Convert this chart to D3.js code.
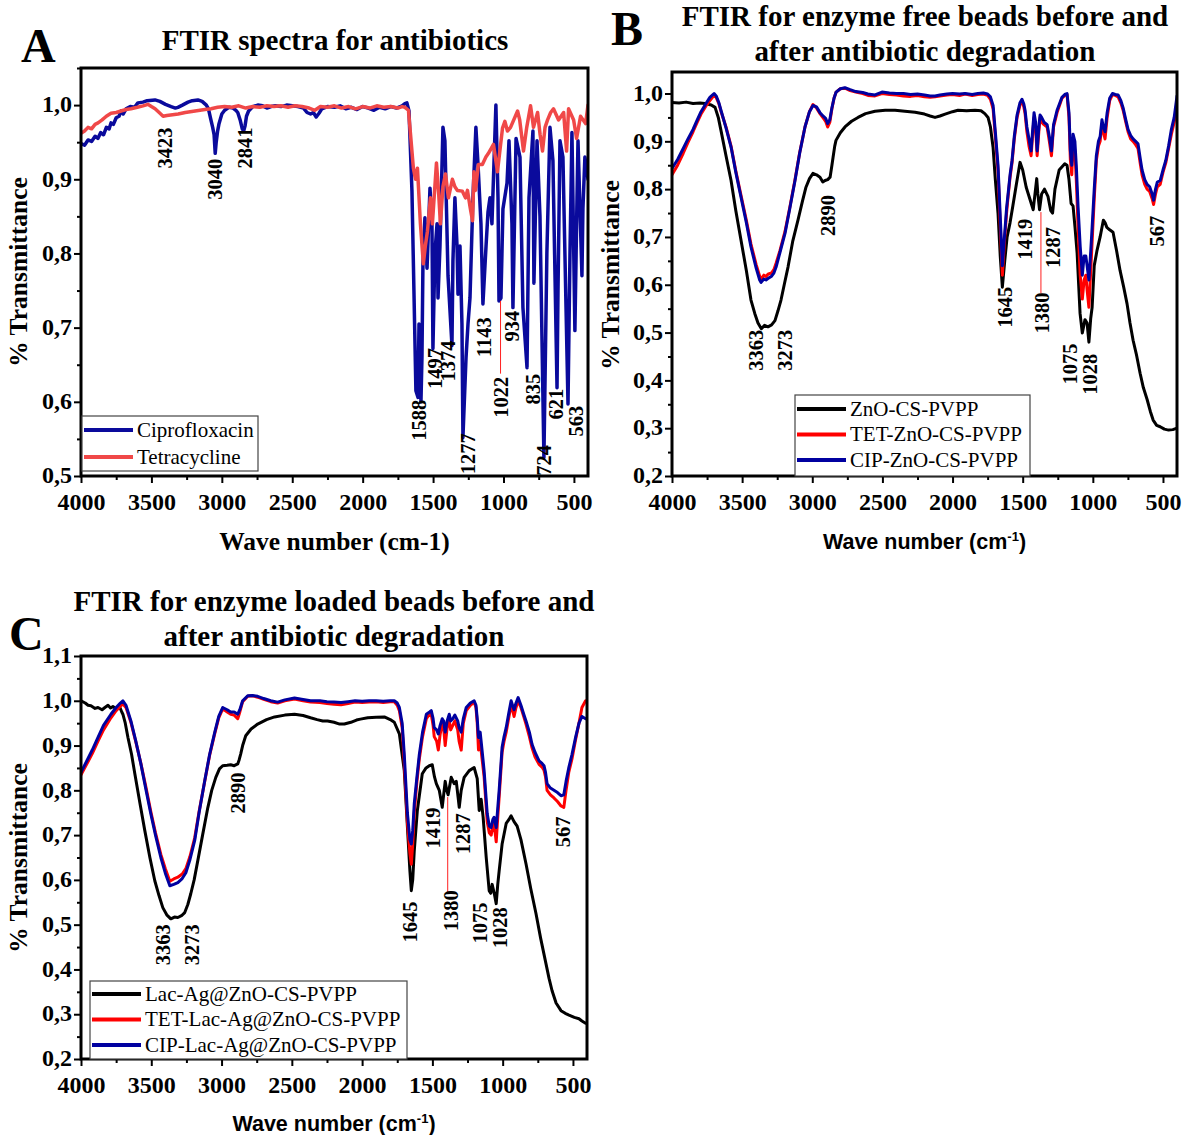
<!DOCTYPE html>
<html><head><meta charset="utf-8">
<script src="https://cdn.jsdelivr.net/npm/d3@7"></script>
<style>body{margin:0;background:#fff}</style>
</head><body>
<svg id="chart" width="1184" height="1135"></svg>
<script>
// ---------- tick labels ----------
const xTickValues = [4000, 3500, 3000, 2500, 2000, 1500, 1000, 500];
const xMinorValues = [3750, 3250, 2750, 2250, 1750, 1250, 750];
const yTicksA = [0.5, 0.6, 0.7, 0.8, 0.9, 1.0];
const yTicksB = [0.2, 0.3, 0.4, 0.5, 0.6, 0.7, 0.8, 0.9, 1.0];
const yTicksC = [0.2, 0.3, 0.4, 0.5, 0.6, 0.7, 0.8, 0.9, 1.0, 1.1];

// ---------- series names ----------
const namesA = ["Ciprofloxacin", "Tetracycline"];
const namesB = ["ZnO-CS-PVPP", "TET-ZnO-CS-PVPP", "CIP-ZnO-CS-PVPP"];
const namesC = ["Lac-Ag@ZnO-CS-PVPP", "TET-Lac-Ag@ZnO-CS-PVPP", "CIP-Lac-Ag@ZnO-CS-PVPP"];

// ---------- panel A values [wavenumber, transmittance] ----------
const ciproA = [[4000,0.948],[3975,0.946],[3950,0.953],[3925,0.951],[3900,0.958],[3880,0.955],[3860,0.963],[3840,0.96],[3820,0.97],[3800,0.968],[3787,0.976],[3770,0.974],[3750,0.983],[3730,0.985],[3715,0.992],[3700,0.988],[3680,0.995],[3650,0.998],[3620,0.997],[3596,1.003],[3560,1.004],[3530,1.006],[3475,1.007],[3440,1.005],[3400,1.001],[3360,0.998],[3330,0.996],[3312,0.997],[3280,1.0],[3240,1.004],[3210,1.006],[3170,1.007],[3140,1.005],[3110,1.0],[3095,0.995],[3080,0.982],[3065,0.97],[3055,0.96],[3047,0.935],[3040,0.95],[3030,0.965],[3020,0.975],[3000,0.988],[2980,0.993],[2950,0.997],[2920,0.996],[2900,0.993],[2887,0.99],[2870,0.98],[2855,0.968],[2845,0.965],[2835,0.972],[2825,0.985],[2810,0.992],[2780,0.998],[2745,1.0],[2710,0.999],[2680,0.996],[2650,0.998],[2620,0.999],[2580,0.998],[2540,1.0],[2500,0.999],[2460,0.998],[2420,0.996],[2395,0.99],[2370,0.988],[2350,0.99],[2330,0.984],[2310,0.989],[2290,0.995],[2250,0.998],[2200,0.997],[2160,0.999],[2120,0.995],[2080,0.997],[2040,0.994],[2000,0.998],[1960,0.996],[1920,0.993],[1880,0.997],[1840,0.995],[1800,0.998],[1760,0.996],[1720,0.999],[1700,1.002],[1686,1.003],[1671,0.992],[1650,0.884],[1636,0.75],[1622,0.615],[1607,0.606],[1600,0.705],[1586,0.6],[1579,0.66],[1572,0.786],[1558,0.848],[1543,0.78],[1522,0.888],[1508,0.84],[1501,0.672],[1487,0.8],[1472,0.84],[1465,0.74],[1451,0.81],[1430,0.97],[1416,0.952],[1394,0.77],[1366,0.676],[1359,0.79],[1345,0.875],[1330,0.81],[1323,0.745],[1309,0.81],[1295,0.705],[1288,0.552],[1266,0.66],[1252,0.705],[1238,0.74],[1217,0.875],[1196,0.97],[1181,0.92],[1160,0.84],[1146,0.732],[1124,0.81],[1110,0.856],[1096,0.875],[1082,0.84],[1068,0.92],[1054,1.0],[1039,0.875],[1032,0.736],[1018,0.74],[1004,0.86],[975,0.895],[961,0.952],[940,0.84],[933,0.727],[911,0.955],[883,0.93],[862,0.727],[833,0.646],[819,0.875],[791,0.965],[784,0.76],[762,0.952],[741,0.85],[713,0.525],[692,0.8],[670,0.97],[649,0.925],[620,0.619],[613,0.75],[599,0.952],[578,0.93],[542,0.597],[528,0.8],[514,0.963],[507,0.875],[493,0.696],[478,0.875],[471,0.952],[443,0.77],[436,0.86],[422,0.93],[400,0.9]];
const tetraA = [[4000,0.962],[3975,0.965],[3950,0.97],[3925,0.968],[3900,0.974],[3879,0.976],[3850,0.98],[3820,0.985],[3787,0.989],[3750,0.99],[3716,0.992],[3680,0.994],[3645,0.995],[3600,0.997],[3560,0.999],[3524,1.001],[3500,0.998],[3474,0.995],[3445,0.99],[3417,0.985],[3390,0.986],[3350,0.987],[3310,0.988],[3260,0.99],[3190,0.992],[3120,0.994],[3076,0.995],[3030,0.997],[2980,0.998],[2930,0.997],[2880,0.999],[2830,0.996],[2780,0.998],[2730,0.997],[2680,0.999],[2630,0.998],[2580,0.999],[2530,0.997],[2480,0.999],[2430,0.998],[2380,0.996],[2340,0.993],[2300,0.998],[2250,0.997],[2200,0.999],[2150,0.996],[2100,0.998],[2050,0.995],[2000,0.998],[1950,0.996],[1900,0.999],[1850,0.997],[1800,0.998],[1750,0.996],[1720,0.998],[1700,0.997],[1675,0.993],[1660,0.96],[1640,0.915],[1625,0.9],[1611,0.915],[1590,0.84],[1569,0.786],[1555,0.81],[1540,0.83],[1519,0.875],[1505,0.84],[1476,0.922],[1460,0.88],[1448,0.84],[1430,0.89],[1412,0.907],[1391,0.875],[1363,0.9],[1345,0.89],[1327,0.885],[1292,0.884],[1270,0.875],[1256,0.885],[1235,0.86],[1220,0.844],[1210,0.91],[1199,0.885],[1178,0.92],[1150,0.92],[1125,0.93],[1107,0.935],[1071,0.947],[1043,0.91],[1007,0.969],[990,0.978],[972,0.965],[950,0.97],[900,0.992],[885,0.98],[858,0.938],[835,0.97],[808,0.999],[787,0.97],[758,0.99],[740,0.96],[723,0.938],[705,0.97],[687,0.98],[665,0.99],[645,0.995],[609,0.98],[573,0.99],[552,0.938],[538,0.995],[502,0.98],[481,0.955],[453,0.985],[417,0.975],[400,1.0]];

// ---------- panel B values ----------
const blackB = [[4000,0.981],[3950,0.98],[3900,0.982],[3850,0.979],[3800,0.98],[3765,0.979],[3720,0.976],[3693,0.971],[3670,0.95],[3651,0.923],[3615,0.87],[3579,0.818],[3545,0.755],[3508,0.693],[3470,0.63],[3437,0.568],[3410,0.54],[3387,0.52],[3363,0.508],[3340,0.515],[3316,0.512],[3290,0.516],[3266,0.525],[3245,0.545],[3223,0.568],[3200,0.6],[3173,0.637],[3140,0.69],[3102,0.735],[3070,0.775],[3045,0.804],[3020,0.822],[2995,0.833],[2970,0.83],[2945,0.825],[2925,0.815],[2909,0.818],[2890,0.82],[2873,0.825],[2860,0.85],[2852,0.866],[2840,0.89],[2831,0.902],[2800,0.918],[2767,0.93],[2720,0.942],[2674,0.95],[2620,0.958],[2553,0.963],[2480,0.965],[2410,0.965],[2340,0.963],[2267,0.961],[2200,0.957],[2160,0.953],[2125,0.95],[2090,0.953],[2053,0.957],[2000,0.962],[1961,0.965],[1900,0.964],[1840,0.965],[1797,0.964],[1770,0.958],[1747,0.95],[1730,0.93],[1711,0.887],[1695,0.82],[1676,0.75],[1660,0.66],[1645,0.595],[1628,0.65],[1611,0.7],[1590,0.73],[1570,0.765],[1545,0.81],[1519,0.856],[1500,0.84],[1475,0.804],[1455,0.785],[1425,0.757],[1400,0.822],[1392,0.79],[1380,0.757],[1365,0.79],[1345,0.8],[1320,0.785],[1300,0.755],[1287,0.75],[1270,0.8],[1240,0.84],[1200,0.853],[1184,0.85],[1170,0.82],[1155,0.77],[1141,0.765],[1127,0.72],[1112,0.666],[1091,0.54],[1075,0.499],[1056,0.527],[1041,0.52],[1028,0.48],[1015,0.53],[1005,0.553],[990,0.64],[970,0.672],[948,0.7],[925,0.735],[913,0.73],[900,0.72],[880,0.715],[856,0.71],[830,0.67],[806,0.63],[780,0.595],[756,0.56],[735,0.52],[713,0.484],[690,0.455],[663,0.415],[640,0.385],[613,0.36],[590,0.335],[570,0.317],[545,0.306],[520,0.303],[490,0.298],[460,0.296],[430,0.297],[400,0.3]];
const redB = [[4000,0.83],[3960,0.85],[3920,0.875],[3886,0.898],[3850,0.92],[3820,0.94],[3793,0.957],[3760,0.973],[3730,0.985],[3700,0.996],[3685,0.992],[3665,0.978],[3651,0.963],[3615,0.93],[3579,0.89],[3545,0.838],[3508,0.787],[3470,0.735],[3437,0.685],[3400,0.642],[3375,0.618],[3365,0.612],[3345,0.62],[3330,0.617],[3316,0.622],[3290,0.625],[3273,0.632],[3258,0.645],[3230,0.672],[3194,0.712],[3160,0.762],[3123,0.82],[3090,0.876],[3052,0.93],[3020,0.962],[2995,0.977],[2970,0.97],[2945,0.958],[2920,0.948],[2905,0.942],[2890,0.93],[2875,0.94],[2860,0.968],[2845,0.99],[2830,1.003],[2800,1.01],[2767,1.011],[2730,1.006],[2690,1.003],[2640,1.0],[2603,0.996],[2553,0.995],[2503,1.0],[2450,0.998],[2400,0.997],[2350,0.995],[2300,0.994],[2250,0.996],[2200,0.993],[2160,0.992],[2125,0.993],[2090,0.995],[2040,0.997],[2000,0.998],[1950,0.996],[1911,0.999],[1860,0.996],[1820,0.998],[1780,0.999],[1750,0.996],[1730,0.988],[1711,0.968],[1695,0.91],[1676,0.84],[1661,0.73],[1645,0.62],[1630,0.69],[1615,0.75],[1604,0.785],[1590,0.825],[1576,0.855],[1560,0.905],[1540,0.95],[1520,0.975],[1505,0.985],[1492,0.972],[1483,0.958],[1470,0.92],[1455,0.89],[1440,0.87],[1430,0.91],[1419,0.95],[1408,0.93],[1397,0.87],[1385,0.92],[1376,0.95],[1365,0.94],[1348,0.935],[1326,0.93],[1310,0.9],[1295,0.87],[1280,0.93],[1255,0.96],[1220,0.99],[1200,0.996],[1184,0.998],[1170,0.95],[1160,0.86],[1150,0.83],[1141,0.9],[1128,0.88],[1118,0.82],[1105,0.72],[1090,0.62],[1075,0.57],[1062,0.61],[1050,0.62],[1041,0.59],[1028,0.553],[1015,0.63],[1005,0.69],[990,0.78],[975,0.86],[960,0.89],[948,0.9],[935,0.935],[925,0.92],[913,0.905],[898,0.95],[880,0.985],[860,0.998],[840,0.996],[820,0.993],[800,0.98],[784,0.965],[765,0.94],[749,0.92],[730,0.905],[713,0.9],[695,0.893],[678,0.885],[660,0.85],[649,0.83],[630,0.81],[613,0.8],[595,0.795],[577,0.78],[567,0.768],[553,0.79],[540,0.805],[520,0.81],[500,0.835],[480,0.855],[460,0.885],[440,0.915],[420,0.94],[400,0.97]];
const blueB = [[4000,0.843],[3960,0.862],[3920,0.885],[3886,0.905],[3850,0.925],[3820,0.945],[3793,0.962],[3760,0.978],[3730,0.992],[3700,1.0],[3685,0.995],[3665,0.98],[3651,0.965],[3615,0.928],[3579,0.888],[3545,0.835],[3508,0.783],[3470,0.73],[3437,0.679],[3400,0.635],[3375,0.61],[3365,0.605],[3345,0.612],[3330,0.61],[3316,0.613],[3290,0.618],[3273,0.625],[3258,0.637],[3230,0.668],[3194,0.708],[3160,0.76],[3123,0.818],[3090,0.875],[3052,0.93],[3020,0.962],[2995,0.975],[2970,0.972],[2945,0.96],[2920,0.952],[2905,0.948],[2890,0.937],[2875,0.945],[2860,0.97],[2845,0.99],[2830,1.003],[2800,1.01],[2767,1.012],[2730,1.008],[2690,1.004],[2640,1.002],[2603,0.999],[2553,0.997],[2503,1.003],[2450,1.001],[2400,1.0],[2350,1.0],[2300,0.998],[2250,0.999],[2200,0.997],[2160,0.995],[2125,0.995],[2090,0.997],[2040,0.999],[2000,1.0],[1950,0.999],[1911,1.0],[1860,0.998],[1820,1.0],[1780,1.001],[1750,0.999],[1730,0.993],[1711,0.975],[1695,0.92],[1676,0.85],[1661,0.75],[1645,0.64],[1630,0.7],[1615,0.76],[1604,0.79],[1590,0.83],[1576,0.86],[1560,0.91],[1540,0.955],[1520,0.98],[1505,0.988],[1492,0.978],[1483,0.965],[1470,0.93],[1455,0.905],[1440,0.88],[1430,0.92],[1419,0.96],[1408,0.94],[1397,0.88],[1385,0.93],[1376,0.955],[1365,0.95],[1348,0.94],[1326,0.935],[1310,0.91],[1295,0.88],[1280,0.935],[1255,0.965],[1220,0.992],[1200,0.998],[1184,1.0],[1170,0.96],[1160,0.88],[1150,0.85],[1141,0.915],[1128,0.9],[1118,0.85],[1105,0.762],[1090,0.68],[1075,0.62],[1062,0.66],[1050,0.66],[1041,0.64],[1028,0.61],[1015,0.67],[1005,0.72],[990,0.8],[975,0.87],[960,0.9],[948,0.91],[935,0.945],[925,0.93],[913,0.92],[898,0.96],[880,0.99],[860,1.0],[840,0.998],[820,0.997],[800,0.985],[784,0.97],[765,0.945],[749,0.925],[730,0.912],[713,0.905],[695,0.9],[678,0.895],[660,0.86],[649,0.84],[630,0.82],[613,0.81],[595,0.805],[577,0.79],[567,0.777],[553,0.8],[540,0.815],[520,0.818],[500,0.84],[480,0.86],[460,0.89],[440,0.925],[420,0.95],[400,0.995]];

// ---------- panel C values ----------
const blackC = [[4000,1.0],[3970,0.995],[3950,0.99],[3929,0.989],[3900,0.983],[3879,0.985],[3850,0.98],[3830,0.985],[3808,0.99],[3790,0.984],[3773,0.987],[3750,0.982],[3723,0.985],[3710,0.975],[3702,0.97],[3685,0.95],[3666,0.918],[3640,0.88],[3617,0.837],[3580,0.77],[3546,0.71],[3510,0.65],[3475,0.598],[3445,0.565],[3418,0.538],[3390,0.522],[3361,0.513],[3335,0.517],[3311,0.516],[3285,0.52],[3262,0.527],[3240,0.545],[3219,0.569],[3195,0.6],[3169,0.643],[3135,0.7],[3098,0.761],[3070,0.8],[3041,0.829],[3015,0.848],[2992,0.855],[2960,0.856],[2935,0.857],[2910,0.855],[2885,0.859],[2875,0.868],[2864,0.881],[2850,0.9],[2828,0.922],[2790,0.937],[2743,0.948],[2680,0.958],[2623,0.964],[2550,0.968],[2481,0.97],[2420,0.967],[2367,0.962],[2320,0.958],[2280,0.955],[2246,0.955],[2200,0.952],[2160,0.948],[2126,0.948],[2080,0.952],[2040,0.957],[2012,0.959],[1960,0.962],[1900,0.963],[1842,0.964],[1800,0.958],[1771,0.952],[1735,0.926],[1700,0.844],[1678,0.72],[1660,0.62],[1650,0.576],[1640,0.6],[1629,0.665],[1607,0.755],[1572,0.837],[1545,0.85],[1522,0.855],[1501,0.857],[1485,0.83],[1472,0.815],[1451,0.8],[1430,0.762],[1409,0.82],[1398,0.8],[1388,0.79],[1366,0.829],[1345,0.815],[1330,0.82],[1309,0.762],[1295,0.8],[1274,0.829],[1238,0.844],[1203,0.851],[1181,0.826],[1167,0.755],[1153,0.78],[1139,0.74],[1117,0.65],[1096,0.576],[1085,0.57],[1075,0.59],[1060,0.57],[1046,0.547],[1035,0.59],[1025,0.62],[1004,0.68],[975,0.726],[955,0.735],[940,0.743],[919,0.73],[897,0.72],[870,0.69],[834,0.636],[800,0.58],[763,0.525],[730,0.47],[692,0.413],[670,0.38],[649,0.353],[620,0.325],[585,0.308],[555,0.302],[528,0.298],[490,0.293],[457,0.29],[436,0.285],[410,0.28]];
const redC = [[4000,0.835],[3960,0.858],[3920,0.882],[3879,0.91],[3840,0.935],[3787,0.962],[3750,0.978],[3720,0.988],[3702,0.993],[3680,0.985],[3645,0.952],[3610,0.908],[3574,0.86],[3540,0.81],[3503,0.752],[3470,0.705],[3432,0.657],[3400,0.625],[3368,0.597],[3340,0.602],[3311,0.606],[3280,0.613],[3254,0.625],[3225,0.652],[3191,0.694],[3160,0.752],[3120,0.82],[3085,0.878],[3049,0.926],[3020,0.962],[2992,0.982],[2960,0.975],[2935,0.97],[2910,0.968],[2885,0.96],[2870,0.975],[2850,0.998],[2814,1.01],[2780,1.011],[2743,1.008],[2700,1.003],[2650,0.998],[2601,0.995],[2550,1.0],[2481,1.004],[2420,1.0],[2367,0.997],[2300,0.996],[2250,0.994],[2200,0.992],[2150,0.991],[2100,0.994],[2050,0.997],[2000,0.996],[1950,0.997],[1900,0.998],[1850,0.996],[1800,0.998],[1771,0.998],[1750,0.99],[1735,0.978],[1715,0.94],[1700,0.86],[1678,0.73],[1660,0.66],[1650,0.635],[1640,0.68],[1629,0.75],[1610,0.82],[1593,0.87],[1570,0.92],[1543,0.96],[1520,0.97],[1508,0.97],[1495,0.945],[1487,0.92],[1470,0.91],[1458,0.89],[1445,0.925],[1430,0.95],[1420,0.94],[1409,0.9],[1395,0.94],[1380,0.955],[1370,0.935],[1355,0.945],[1340,0.955],[1320,0.935],[1310,0.91],[1295,0.89],[1280,0.95],[1259,0.978],[1230,0.99],[1203,0.997],[1190,0.985],[1181,0.95],[1172,0.89],[1160,0.91],[1150,0.88],[1132,0.83],[1110,0.73],[1095,0.705],[1082,0.7],[1070,0.72],[1061,0.725],[1046,0.685],[1035,0.74],[1025,0.785],[1004,0.885],[990,0.91],[975,0.93],[958,0.96],[940,0.99],[930,0.98],[919,0.965],[905,0.985],[890,1.0],[870,0.985],[850,0.965],[834,0.948],[810,0.92],[791,0.895],[770,0.875],[741,0.858],[720,0.852],[706,0.845],[695,0.83],[684,0.8],[660,0.79],[635,0.783],[610,0.775],[585,0.765],[565,0.762],[549,0.8],[530,0.84],[507,0.87],[480,0.915],[457,0.95],[436,0.985],[410,1.0]];
const blueC = [[4000,0.84],[3960,0.865],[3920,0.89],[3879,0.918],[3840,0.945],[3787,0.97],[3750,0.985],[3720,0.995],[3702,1.0],[3680,0.99],[3645,0.955],[3610,0.91],[3574,0.859],[3540,0.805],[3503,0.747],[3470,0.7],[3432,0.65],[3400,0.615],[3368,0.587],[3340,0.59],[3311,0.594],[3280,0.603],[3254,0.616],[3225,0.645],[3191,0.688],[3160,0.75],[3120,0.821],[3085,0.88],[3049,0.929],[3020,0.965],[2992,0.985],[2960,0.98],[2935,0.975],[2910,0.975],[2885,0.97],[2870,0.98],[2850,1.0],[2814,1.011],[2780,1.012],[2743,1.01],[2700,1.005],[2650,1.0],[2601,0.997],[2550,1.002],[2481,1.006],[2420,1.003],[2367,1.0],[2300,1.0],[2250,0.998],[2200,0.997],[2150,0.996],[2100,0.998],[2050,1.0],[2000,0.999],[1950,1.0],[1900,1.0],[1850,0.999],[1800,1.0],[1771,1.0],[1750,0.995],[1735,0.985],[1715,0.95],[1700,0.88],[1678,0.75],[1660,0.69],[1650,0.68],[1640,0.71],[1629,0.77],[1610,0.83],[1593,0.88],[1570,0.93],[1543,0.97],[1520,0.975],[1508,0.978],[1495,0.96],[1487,0.94],[1470,0.935],[1458,0.926],[1445,0.945],[1430,0.96],[1420,0.955],[1409,0.93],[1395,0.955],[1380,0.97],[1370,0.955],[1355,0.96],[1340,0.968],[1320,0.955],[1310,0.94],[1295,0.93],[1280,0.96],[1259,0.985],[1230,0.995],[1203,1.0],[1190,0.99],[1181,0.96],[1172,0.918],[1160,0.93],[1150,0.9],[1132,0.844],[1110,0.748],[1095,0.72],[1082,0.717],[1070,0.735],[1061,0.74],[1046,0.717],[1035,0.76],[1025,0.8],[1004,0.896],[990,0.92],[975,0.94],[958,0.97],[940,1.0],[930,0.99],[919,0.98],[905,0.995],[890,1.007],[870,0.99],[850,0.97],[834,0.955],[810,0.93],[791,0.903],[770,0.885],[741,0.866],[720,0.86],[706,0.855],[695,0.84],[684,0.815],[660,0.805],[635,0.8],[610,0.795],[585,0.788],[565,0.79],[549,0.82],[530,0.85],[507,0.88],[480,0.92],[457,0.95],[436,0.965],[410,0.96]];

// ---------- peak annotations [label, wavenumber position, transmittance position] ----------
const annotA = [["3423",3403,0.942],["3040",3047,0.9],["2841",2834,0.942],["1588",1604,0.575],["1497",1490,0.645],["1374",1398,0.655],["1277",1256,0.53],["1143",1142,0.687],["1022",1021,0.606],["934",943,0.702],["835",794,0.617],["724",716,0.521],["621",630,0.597],["563",488,0.574]];
const annotB = [["3363",3401,0.463],["3273",3194,0.463],["2890",2888,0.745],["1645",1626,0.553],["1419",1483,0.695],["1380",1362,0.541],["1287",1284,0.678],["1075",1163,0.434],["1028",1020,0.413],["567",542,0.712]];
const annotC = [["3363",3417,0.455],["3273",3211,0.455],["2890",2884,0.794],["1645",1661,0.506],["1419",1498,0.716],["1380",1370,0.531],["1287",1284,0.703],["1075",1163,0.504],["1028",1021,0.493],["567",573,0.707]];
// red leader lines [wavenumber, T top, T bottom]
const leaderA = [[1021,0.736,0.638]];
const leaderB = [[1370,0.752,0.582]];
const leaderC = [[1391,0.785,0.573]];

// ---------------------------------------------------------------
const SERIF = "'Liberation Serif','Times New Roman',serif";
const SANS = "'Liberation Sans',Arial,sans-serif";
const svg = d3.select("#chart");
const fmtY = d => d3.format(".1f")(d).replace(".", ",");

function panel(o, idx) {
  const g = svg.append("g");
  const x = d3.scaleLinear().domain([4000, 400]).range([o.left, o.right]);
  const y = d3.scaleLinear().domain(o.yDomain).range([o.bottom, o.top]);

  const clipId = "clip" + idx;
  g.append("clipPath").attr("id", clipId).append("rect")
    .attr("x", o.left).attr("y", o.top).attr("width", o.right - o.left).attr("height", o.bottom - o.top);

  const line = d3.line().x(d => x(d[0])).y(d => y(d[1]));
  const plot = g.append("g").attr("clip-path", `url(#${clipId})`);
  o.series.forEach(s => {
    plot.append("path").datum(s.data).attr("d", line)
      .attr("fill", "none").attr("stroke", s.color).attr("stroke-width", s.width || 3)
      .attr("stroke-linejoin", "round").attr("stroke-linecap", "round");
  });

  const gx = g.append("g").attr("transform", `translate(0,${o.bottom})`)
    .call(d3.axisBottom(x).tickValues(xTickValues).tickSize(7).tickPadding(10).tickFormat(d3.format("d")));
  const gxm = g.append("g").attr("transform", `translate(0,${o.bottom})`)
    .call(d3.axisBottom(x).tickValues(xMinorValues).tickSize(4).tickFormat(""));
  const minors = [];
  for (let v = o.yDomain[0] + 0.05; v < o.yDomain[1] + 1e-6; v += 0.1) minors.push(+v.toFixed(3));
  const gy = g.append("g").attr("transform", `translate(${o.left},0)`)
    .call(d3.axisLeft(y).tickValues(o.yTicks).tickSize(7).tickPadding(2).tickFormat(fmtY));
  const gym = g.append("g").attr("transform", `translate(${o.left},0)`)
    .call(d3.axisLeft(y).tickValues(minors.filter(v => v <= o.yDomain[1])).tickSize(4).tickFormat(""));
  [gx, gxm, gy, gym].forEach(a => {
    a.select(".domain").remove();
    a.selectAll("line").attr("stroke", "#000").attr("stroke-width", 2);
    a.selectAll("text").attr("font-family", SERIF).attr("font-size", 24)
      .attr("font-weight", "bold").attr("fill", "#000");
  });
  gy.selectAll("text").attr("dy", "0.28em");

  g.append("rect").attr("x", o.left).attr("y", o.top)
    .attr("width", o.right - o.left).attr("height", o.bottom - o.top)
    .attr("fill", "none").attr("stroke", "#000").attr("stroke-width", 3);

  o.leaders.forEach(l => {
    g.append("line").attr("x1", x(l[0])).attr("x2", x(l[0]))
      .attr("y1", y(l[1])).attr("y2", y(l[2]))
      .attr("stroke", "#ff2020").attr("stroke-width", 1);
  });

  o.annot.forEach(a => {
    g.append("text").attr("transform", `translate(${x(a[1])},${y(a[2])}) rotate(-90)`)
      .attr("text-anchor", "middle").attr("dy", "0.35em")
      .attr("font-family", SERIF).attr("font-size", 20.5).attr("font-weight", "bold")
      .attr("fill", "#000").text(a[0]);
  });

  const L = o.legend;
  g.append("rect").attr("x", L.x).attr("y", L.y).attr("width", L.w).attr("height", L.h)
    .attr("fill", "#fff").attr("stroke", "#444").attr("stroke-width", 1.2);
  o.series.forEach((s, i) => {
    const ly = L.y + L.first + i * L.step;
    g.append("line").attr("x1", L.x + 2).attr("x2", L.x + 51).attr("y1", ly).attr("y2", ly)
      .attr("stroke", s.color).attr("stroke-width", 4);
    g.append("text").attr("x", L.x + 55).attr("y", ly).attr("dy", "0.33em")
      .attr("font-family", SERIF).attr("font-size", 21).attr("fill", "#000").text(s.name);
  });

  g.append("text").attr("x", o.letter[0]).attr("y", o.letter[1])
    .attr("font-family", SERIF).attr("font-size", 48).attr("font-weight", "bold").text(o.letter[2]);
  o.title.forEach((t, i) => {
    g.append("text").attr("x", o.titleX).attr("y", o.titleY + i * 35).attr("text-anchor", "middle")
      .attr("font-family", SERIF).attr("font-size", 29).attr("font-weight", "bold").text(t);
  });
  const xt = g.append("text").attr("x", (o.left + o.right) / 2 + (o.xTitleDx || 0)).attr("y", o.xTitleY)
    .attr("text-anchor", "middle").attr("font-weight", "bold").attr("fill", "#000");
  if (o.sansX) {
    xt.attr("font-family", SANS).attr("font-size", 21.5);
    xt.append("tspan").text("Wave number (cm");
    xt.append("tspan").attr("dy", -8).attr("font-size", 13).text("-1");
    xt.append("tspan").attr("dy", 8).text(")");
  } else {
    xt.attr("font-family", SERIF).attr("font-size", 25.5).text("Wave number (cm-1)");
  }
  g.append("text").attr("transform", `translate(${o.yTitleX},${o.yTitleY}) rotate(-90)`)
    .attr("text-anchor", "middle").attr("font-family", SERIF).attr("font-size", 25.5)
    .attr("font-weight", "bold").text("% Transmittance");
}

panel({
  left: 81, right: 588, top: 68, bottom: 476, yDomain: [0.5, 1.05], yTicks: yTicksA,
  series: [
    { name: namesA[0], data: ciproA, color: "#0a0a9c", width: 3.5 },
    { name: namesA[1], data: tetraA, color: "#f04848", width: 3.5 }
  ],
  legend: { x: 82, y: 416, w: 176, h: 55, first: 14, step: 27 },
  annot: annotA, leaders: leaderA,
  letter: [21, 62, "A"], title: ["FTIR spectra for antibiotics"], titleX: 335, titleY: 50,
  xTitleY: 550, yTitleX: 27, yTitleY: 272
}, 0);

panel({
  left: 672, right: 1177, top: 72, bottom: 476, yDomain: [0.2, 1.045], yTicks: yTicksB,
  series: [
    { name: namesB[0], data: blackB, color: "#000000" },
    { name: namesB[1], data: redB, color: "#ff0000" },
    { name: namesB[2], data: blueB, color: "#0000a0" }
  ],
  legend: { x: 795, y: 395, w: 235, h: 81, first: 14, step: 25.5 },
  annot: annotB, leaders: leaderB,
  letter: [611, 45, "B"], title: ["FTIR for enzyme free beads before and", "after antibiotic degradation"],
  titleX: 925, titleY: 26, sansX: true,
  xTitleY: 549, yTitleX: 619, yTitleY: 275
}, 1);

panel({
  left: 81, right: 587, top: 656, bottom: 1059, yDomain: [0.2, 1.1], yTicks: yTicksC,
  series: [
    { name: namesC[0], data: blackC, color: "#000000" },
    { name: namesC[1], data: redC, color: "#ff0000" },
    { name: namesC[2], data: blueC, color: "#0000a0" }
  ],
  legend: { x: 90, y: 981, w: 317, h: 78, first: 13, step: 25.5 },
  annot: annotC, leaders: leaderC,
  letter: [9, 650, "C"], title: ["FTIR for enzyme loaded beads before and", "after antibiotic degradation"],
  titleX: 334, titleY: 611, sansX: true,
  xTitleY: 1131, yTitleX: 27, yTitleY: 858
}, 2);
</script>
</body></html>
